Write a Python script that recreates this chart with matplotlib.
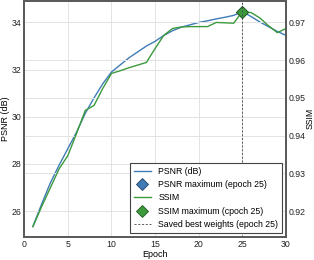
import numpy as np
import matplotlib
matplotlib.use("Agg")
import matplotlib.pyplot as plt

plt.rcParams['font.family'] = ['Liberation Sans', 'DejaVu Sans']

# values
epochs = list(range(1, 31))
psnr = [25.35, 26.3, 27.2, 27.95, 28.65, 29.35, 30.15, 30.8, 31.4, 31.9,
        32.2, 32.5, 32.75, 33.0, 33.2, 33.45, 33.65, 33.8, 33.9, 34.0,
        34.07, 34.15, 34.22, 34.3, 34.46, 34.25, 34.02, 33.82, 33.62, 33.45]
ssim = [0.9159, 0.9212, 0.9262, 0.9312, 0.9347, 0.9406, 0.9467, 0.9480, 0.9525, 0.9565,
        0.9572, 0.9580, 0.9587, 0.9594, 0.9631, 0.9666, 0.9684, 0.9688, 0.9689, 0.9689,
        0.9689, 0.9700, 0.9699, 0.9698, 0.9729, 0.9726, 0.9712, 0.9691, 0.9673, 0.9684]
best_epoch = 25
x_ticks = [0, 5, 10, 15, 20, 25, 30]
psnr_ticks = [26, 28, 30, 32, 34]
ssim_ticks = [0.92, 0.93, 0.94, 0.95, 0.96, 0.97]

blue = '#3f7cb6'
green = '#3c9a3c'
spine = '#5a5a5a'
fs = 6.3

fig = plt.figure(figsize=(3.14, 2.6), dpi=100)
ax = fig.add_axes([0.077, 0.088, 0.834, 0.91])
ax2 = ax.twinx()

i_best = epochs.index(best_epoch)

l1, = ax.plot(epochs, psnr, color=blue, lw=1.0, label='PSNR (dB)')
m1, = ax.plot([best_epoch], [psnr[i_best]], linestyle='none', marker='D', ms=6,
              mfc=blue, mec='#1f3f66', mew=0.6, label='PSNR maximum (epoch 25)')
l2, = ax2.plot(epochs, ssim, color=green, lw=1.0, label='SSIM')
m2, = ax2.plot([best_epoch], [ssim[i_best]], linestyle='none', marker='D', ms=6,
               mfc=green, mec='#1f5a1f', mew=0.6, label='SSIM maximum (cpoch 25)')
vl = ax2.axvline(best_epoch, color='#444444', lw=0.6, ls=(0, (2.5, 2)),
                 label='Saved best weights (epoch 25)')

ax.set_xlim(0, 30)
ax.set_ylim(24.9, 34.93)
ax2.set_ylim(0.91312, 0.97581)
ax.set_xticks(x_ticks)
ax.set_yticks(psnr_ticks)
ax2.set_yticks(ssim_ticks)
ax2.set_yticklabels([f'{t:.2f}' for t in ssim_ticks])

for a in (ax, ax2):
    a.tick_params(length=0, labelsize=fs, pad=2, colors='#222222')
    a.grid(True, color='#e3e3e3', lw=0.7)
    a.set_axisbelow(True)
    for s in a.spines.values():
        s.set_color(spine)
        s.set_linewidth(1.3)
ax2.tick_params(axis='y', pad=1.5)
ax2.grid(True, axis='y', color='#e3e3e3', lw=0.7)
ax2.grid(False, axis='x')

ax.set_xlabel('Epoch', fontsize=6.5, labelpad=0.5)
ax.set_ylabel('PSNR (dB)', fontsize=6.5, labelpad=1)
ax2.set_ylabel('SSIM', fontsize=6.3, labelpad=0)

leg = ax2.legend([l1, m1, l2, m2, vl], [h.get_label() for h in [l1, m1, l2, m2, vl]],
                 loc='lower right', fontsize=fs, frameon=True, fancybox=False,
                 framealpha=1, borderaxespad=0.5)
leg.get_frame().set_edgecolor('#444444')
leg.get_frame().set_linewidth(0.8)

fig.savefig('out.png', dpi=100)
